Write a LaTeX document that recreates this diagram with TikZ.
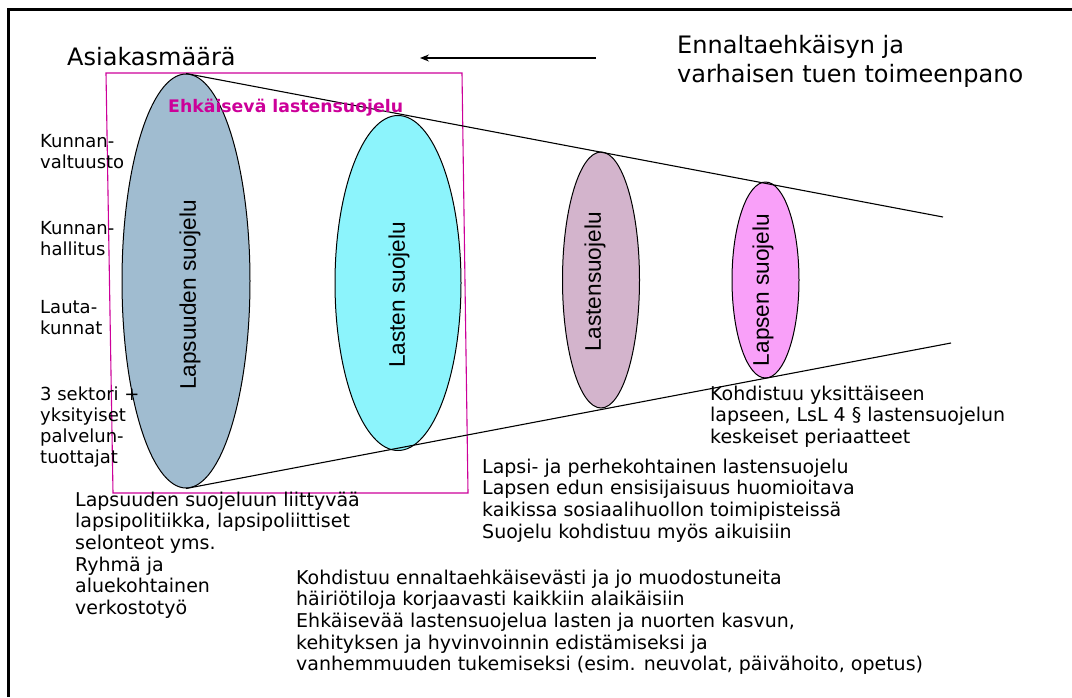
\documentclass[tikz,border=0pt]{standalone}
\usepackage{fontspec}
\setmainfont{DejaVu Sans}
\newfontfamily\arialf{Liberation Sans}
\usetikzlibrary{shapes.geometric,arrows.meta}
\definecolor{magline}{RGB}{204,0,153}
\definecolor{eblue}{RGB}{160,188,208}
\definecolor{ecyan}{RGB}{140,244,252}
\definecolor{emauve}{RGB}{211,180,204}
\definecolor{epink}{RGB}{249,160,249}
\begin{document}
\begin{tikzpicture}[x=1pt,y=-1pt,
  txt/.style={inner sep=0pt, anchor=base west, font=\fontsize{19}{21.7}\selectfont},
  sidetxt/.style={inner sep=0pt, anchor=base west, font=\fontsize{18}{21}\selectfont},
  bigtxt/.style={inner sep=0pt, anchor=base west, font=\fontsize{24}{29}\selectfont},
  oval/.style={ellipse, draw=black, line width=1pt, inner sep=0pt},
  ovaltxt/.style={rotate=90, inner sep=0pt, font=\arialf\fontsize{22.6}{26}\selectfont},
  thin/.style={line width=1.1pt, draw=black}]
\useasboundingbox (0,0) rectangle (1072,697);

% frame
\coordinate (fBL) at (8,697);
\coordinate (fTL) at (8,9);
\coordinate (fTR) at (1072,9);
\draw[line width=3pt] (fBL) -- (fTL) -- (fTR);

% magenta box
\coordinate (mA) at (106,73);
\coordinate (mB) at (462,73);
\coordinate (mC) at (468,493);
\coordinate (mD) at (113,493);
\draw[magline, line width=1.1pt] (mA) -- (mB) -- (mC) -- (mD) -- cycle;

% ellipses
\node[oval, fill=eblue,  minimum width=128pt, minimum height=414pt] (e1) at (186,281) {};
\node[oval, fill=ecyan,  minimum width=126pt, minimum height=335pt] (e2) at (398,283) {};
\node[oval, fill=emauve, minimum width=77pt,  minimum height=256pt] (e3) at (601,280) {};
\node[oval, fill=epink,  minimum width=67pt,  minimum height=196pt] (e4) at (765.5,280) {};

\node[ovaltxt] (l1) at (190,295) {Lapsuuden suojelu};
\node[ovaltxt] (l2) at (399,295) {Lasten suojelu};
\node[ovaltxt] (l3) at (595,282) {Lastensuojelu};
\node[ovaltxt] (l4) at (763,290) {Lapsen suojelu};

% cone lines
\coordinate (cTR) at (943,217);
\coordinate (cBR) at (951,343);
\draw[thin] (e1.north) -- (cTR);
\draw[thin] (e1.south) -- (cBR);

% arrow
\coordinate (aS) at (596,58);
\coordinate (aE) at (420,58);
\draw[thin, -{Stealth[length=9pt,width=7pt]}] (aS) -- (aE);

% titles
\node[bigtxt] (asi) at (67,65.5) {Asiakasmäärä};
\node[bigtxt] (enn) at (677,53) {\vtop{\hbox{Ennaltaehkäisyn ja}\hbox{varhaisen tuen toimeenpano}}};

\node[inner sep=0pt, anchor=base west, text=magline, font=\bfseries\fontsize{17.3}{20}\selectfont] (ehk) at (168,112) {Ehkäisevä lastensuojelu};

% side labels
\node[sidetxt] (s1) at (40,147) {\vtop{\hbox{Kunnan-}\hbox{valtuusto}}};
\node[sidetxt] (s2) at (40,234) {\vtop{\hbox{Kunnan-}\hbox{hallitus}}};
\node[sidetxt] (s3) at (40,313) {\vtop{\hbox{Lauta-}\hbox{kunnat}}};
\node[sidetxt] (s4) at (40,400) {\vtop{\hbox{3 sektori +}\hbox{yksityiset}\hbox{palvelun-}\hbox{tuottajat}}};

% text blocks
\node[txt] (t1) at (710,400) {\vtop{\hbox{Kohdistuu yksittäiseen}\hbox{lapseen, LsL 4 § lastensuojelun}\hbox{keskeiset periaatteet}}};
\node[txt] (t2) at (482,473) {\vtop{\hbox{Lapsi- ja perhekohtainen lastensuojelu}\hbox{Lapsen edun ensisijaisuus huomioitava}\hbox{kaikissa sosiaalihuollon toimipisteissä}\hbox{Suojelu kohdistuu myös aikuisiin}}};
\node[txt] (t3) at (75,506) {\vtop{\hbox{Lapsuuden suojeluun liittyvää}\hbox{lapsipolitiikka, lapsipoliittiset}\hbox{selonteot yms.}\hbox{Ryhmä ja}\hbox{aluekohtainen}\hbox{verkostotyö}}};
\node[txt] (t4) at (296,584) {\vtop{\hbox{Kohdistuu ennaltaehkäisevästi ja jo muodostuneita}\hbox{häiriötiloja korjaavasti kaikkiin alaikäisiin}\hbox{Ehkäisevää lastensuojelua lasten ja nuorten kasvun,}\hbox{kehityksen ja hyvinvoinnin edistämiseksi ja}\hbox{vanhemmuuden tukemiseksi (esim. neuvolat, päivähoito, opetus)}}};
\end{tikzpicture}
\end{document}
